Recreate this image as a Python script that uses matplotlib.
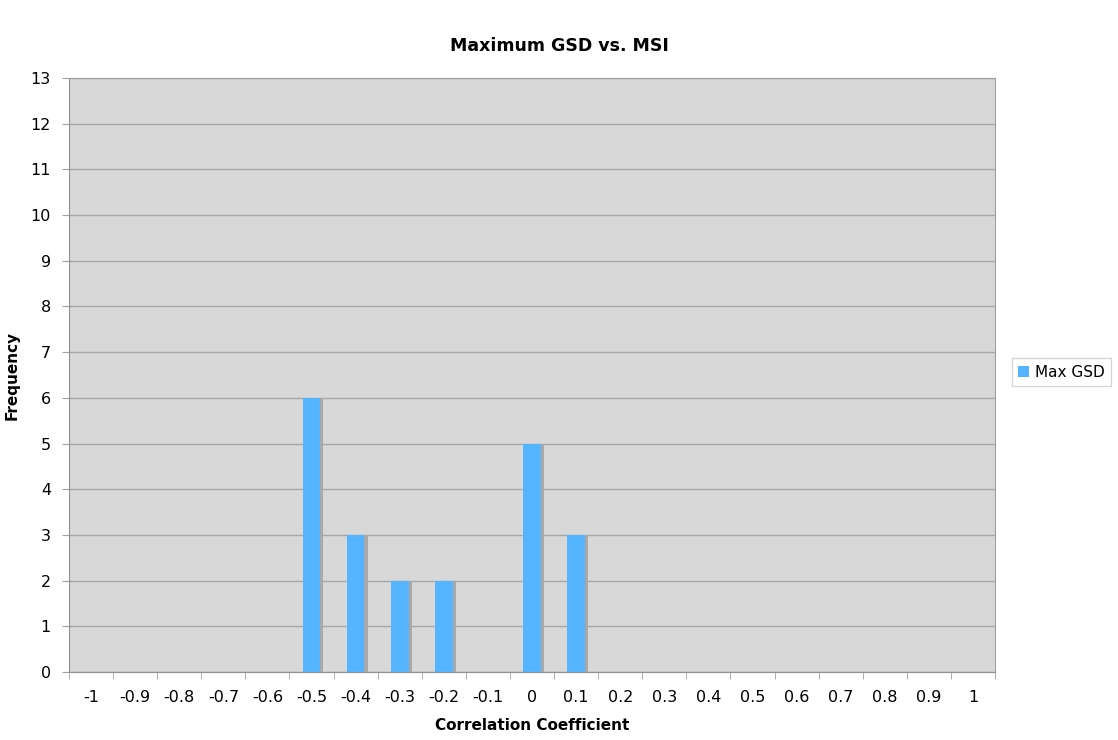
import matplotlib
matplotlib.use("Agg")
import matplotlib.pyplot as plt
import numpy as np

categories = ["-1", "-0.9", "-0.8", "-0.7", "-0.6", "-0.5", "-0.4", "-0.3", "-0.2", "-0.1",
              "0", "0.1", "0.2", "0.3", "0.4", "0.5", "0.6", "0.7", "0.8", "0.9", "1"]
max_gsd = [0, 0, 0, 0, 0, 6, 3, 2, 2, 0, 5, 3, 0, 0, 0, 0, 0, 0, 0, 0, 0]
y_ticks = list(range(0, 14))

plt.rcParams['font.family'] = ['DejaVu Sans']

fig = plt.figure(figsize=(11.18, 7.4), dpi=100)
ax = fig.add_axes([0.0617, 0.0919, 0.8283, 0.8027])

x = np.arange(len(categories))
bar_w = 0.40

# soft drop shadow behind each bar
ax.bar(x + 0.07, max_gsd, width=bar_w, color="#a9a9a9", zorder=2, linewidth=0)
ax.bar(x, max_gsd, width=bar_w, color="#55b4ff", zorder=3, linewidth=0, label="Max GSD")

ax.set_facecolor("#d8d8d8")
ax.set_xlim(-0.5, len(categories) - 0.5)
ax.set_ylim(0, 13)
ax.set_yticks(y_ticks)
ax.set_yticklabels([str(v) for v in y_ticks], fontsize=11.5)
ax.yaxis.grid(True, color="#a6a6a6", linewidth=1.0, zorder=1)
ax.set_axisbelow(True)

ax.set_xticks(x)
ax.set_xticklabels(categories, fontsize=11.5)
ax.tick_params(axis="x", which="major", length=0, pad=13)
ax.set_xticks(np.arange(-0.5, len(categories), 1.0), minor=True)
ax.tick_params(axis="x", which="minor", length=5, color="#a0a0a0")
ax.tick_params(axis="y", length=5, color="#a0a0a0", pad=8)

for side in ["top", "right"]:
    ax.spines[side].set_color("#a0a0a0")
for side in ["left", "bottom"]:
    ax.spines[side].set_color("#909090")

ax.set_xlabel("Correlation Coefficient", fontsize=11, fontweight="bold", labelpad=9)
ax.set_ylabel("Frequency", fontsize=11, fontweight="bold", labelpad=14)
ax.yaxis.set_label_coords(-0.053, 0.5)
fig.suptitle("Maximum GSD vs. MSI", fontsize=12.5, fontweight="bold", y=0.95)

leg = ax.legend(loc="center left", bbox_to_anchor=(1.01, 0.505), fontsize=11,
                frameon=True, fancybox=False, handlelength=0.7, handleheight=0.7,
                handletextpad=0.4, borderpad=0.4, edgecolor="#cccccc")

fig.savefig("out.png", dpi=100, facecolor="white")
